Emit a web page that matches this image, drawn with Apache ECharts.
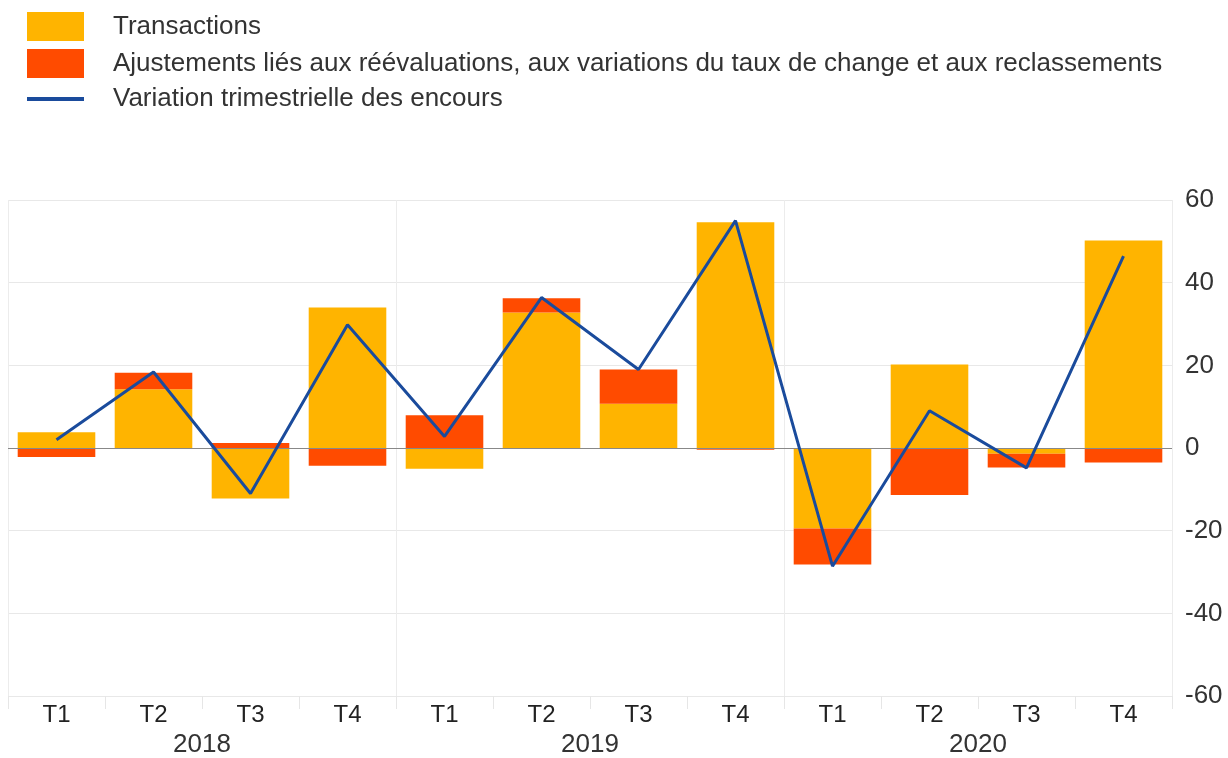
<!DOCTYPE html>
<html>
<head>
<meta charset="utf-8">
<script src="https://cdn.jsdelivr.net/npm/echarts@6/dist/echarts.min.js"></script>
<style>
html,body{margin:0;padding:0;background:#fff;}
#main{width:1228px;height:758px;}
</style>
</head>
<body>
<div id="main"></div>
<script>
var quarters=['T1','T2','T3','T4','T1','T2','T3','T4','T1','T2','T3','T4'];
var years=['2018','2019','2020'];
var transactions=[3.8,14.2,-12.2,34.0,-5.0,32.8,10.7,54.6,-19.5,20.2,-1.4,50.2];
var ajustements=[-2.2,4.0,1.2,-4.3,7.9,3.4,8.3,-0.4,-8.7,-11.4,-3.3,-3.5];
var variation=[2.0,18.4,-11.0,29.8,2.8,36.4,19.0,55.0,-28.6,9.0,-4.8,46.4];

var names=['Transactions','Ajustements liés aux réévaluations, aux variations du taux de change et aux reclassements','Variation trimestrielle des encours'];
var blue='#1A4B9C';

var dom=document.getElementById('main');
var myChart=echarts.init(dom);
var option={
    animation:false,
    textStyle:{fontFamily:'Liberation Sans, Arial, sans-serif'},
    legend:{
        orient:'vertical',
        left:27,
        top:12,
        padding:0,
        itemWidth:57,
        itemHeight:29,
        itemGap:8,
        textStyle:{fontSize:26,color:'#333',padding:[0,0,0,24]},
        data:[
            {name:names[0],icon:'rect'},
            {name:names[1],icon:'rect'},
            {name:names[2],icon:'path://M0,0 L57,0 L57,4 L0,4 Z',itemStyle:{color:blue}}
        ]
    },
    grid:{left:8,right:56,top:200,bottom:61},
    xAxis:[{
        type:'category',
        data:quarters,
        position:'bottom',
        axisLine:{show:false,onZero:false},
        axisTick:{show:true,length:13,lineStyle:{color:'#e6e6e6'}},
        axisLabel:{fontSize:24,color:'#222',margin:7}
    },{
        type:'category',
        data:years,
        position:'bottom',
        axisLine:{show:false,onZero:false},
        axisTick:{show:false},
        axisLabel:{fontSize:26,color:'#333',margin:36},
        splitLine:{show:true,lineStyle:{color:'#ececec',width:1}}
    }],
    yAxis:{
        type:'value',
        position:'right',
        min:-60,
        max:60,
        interval:20,
        axisLine:{show:false},
        axisTick:{show:false},
        axisLabel:{fontSize:26,color:'#333',margin:13},
        splitLine:{lineStyle:{color:'#e8e8e8',width:1}}
    },
    series:[{
        name:names[0],
        type:'bar',
        stack:'total',
        barCategoryGap:'20%',
        itemStyle:{color:'#FFB400'},
        data:transactions,
        markLine:{
            silent:true,
            symbol:'none',
            label:{show:false},
            lineStyle:{color:'#888',type:'solid',width:1},
            data:[{yAxis:0}]
        }
    },{
        name:names[1],
        type:'bar',
        stack:'total',
        barCategoryGap:'20%',
        itemStyle:{color:'#FF4B00'},
        data:ajustements
    },{
        name:names[2],
        type:'line',
        symbol:'none',
        z:5,
        lineStyle:{color:blue,width:3},
        itemStyle:{color:blue},
        data:variation
    }]
};
myChart.setOption(option);
</script>
</body>
</html>
